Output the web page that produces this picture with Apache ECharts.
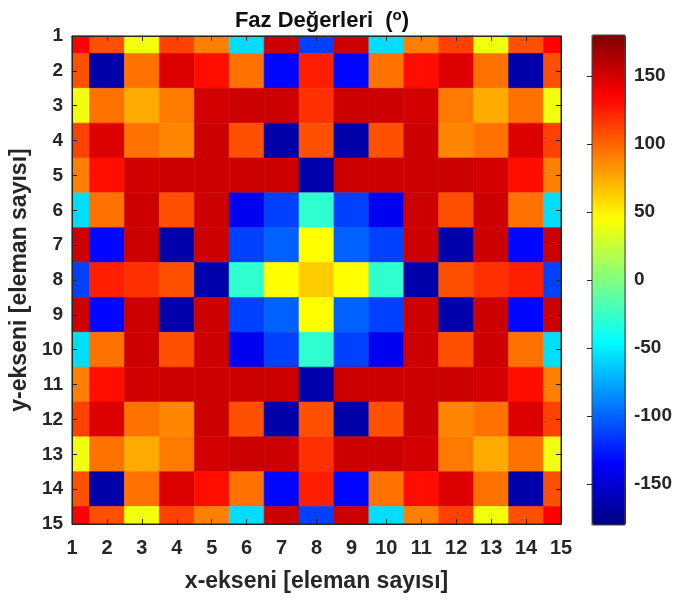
<!DOCTYPE html>
<html>
<head>
<meta charset="utf-8">
<script src="https://cdn.jsdelivr.net/npm/echarts@6/dist/echarts.min.js"></script>
<style>
  html, body { margin: 0; padding: 0; background: #fff; }
  #chart { width: 675px; height: 603px; }
</style>
</head>
<body>
<div id="chart"></div>
<script>
// Element indices along each axis
const xTicks = [1, 2, 3, 4, 5, 6, 7, 8, 9, 10, 11, 12, 13, 14, 15];
const yTicks = [1, 2, 3, 4, 5, 6, 7, 8, 9, 10, 11, 12, 13, 14, 15];
const colorbarTicks = [-150, -100, -50, 0, 50, 100, 150];

// Phase of each array element in degrees, one row per y index
const row1  = [135, 107, 40, 112, 90, -57, 153, -112, 153, -57, 90, 112, 40, 107, 135];
const row2  = [107, -165, 95, 147, 130, 95, -133, 124, -133, 95, 130, 147, 95, -165, 107];
const row3  = [40, 95, 75, 92, 151, 153, 153, 118, 153, 153, 151, 92, 75, 95, 40];
const row4  = [112, 147, 95, 88, 153, 107, -165, 107, -165, 107, 153, 88, 95, 147, 112];
const row5  = [90, 130, 151, 153, 153, 153, 153, -165, 153, 153, 153, 153, 151, 130, 90];
const row6  = [-57, 95, 153, 107, 153, -140, -112, -28, -112, -140, 153, 107, 153, 95, -57];
const row7  = [153, -133, 153, -165, 153, -112, -101, 45, -101, -112, 153, -165, 153, -133, 153];
const row8  = [-112, 124, 118, 107, -165, -28, 45, 63, 45, -28, -165, 107, 118, 124, -112];
const row9  = [153, -133, 153, -165, 153, -112, -101, 45, -101, -112, 153, -165, 153, -133, 153];
const row10 = [-57, 95, 153, 107, 153, -140, -112, -28, -112, -140, 153, 107, 153, 95, -57];
const row11 = [90, 130, 151, 153, 153, 153, 153, -165, 153, 153, 153, 153, 151, 130, 90];
const row12 = [112, 147, 95, 88, 153, 107, -165, 107, -165, 107, 153, 88, 95, 147, 112];
const row13 = [40, 95, 75, 92, 151, 153, 153, 118, 153, 153, 151, 92, 75, 95, 40];
const row14 = [107, -165, 95, 147, 130, 95, -133, 124, -133, 95, 130, 147, 95, -165, 107];
const row15 = [135, 107, 40, 112, 90, -57, 153, -112, 153, -57, 90, 112, 40, 107, 135];
const phaseRows = [row1, row2, row3, row4, row5, row6, row7, row8,
                   row9, row10, row11, row12, row13, row14, row15];

// Jet colour ramp stops (dark blue -> blue -> cyan -> yellow -> red -> dark red)
const jetStops = ['#000080', '#0000ff', '#0080ff', '#00ffff', '#80ff80',
                  '#ffff00', '#ff8000', '#ff0000', '#800000'];

const cells = [];
phaseRows.forEach((row, r) => {
  row.forEach((v, c) => cells.push([xTicks[c], yTicks[r], v]));
});

const TXT = '#262626';
const FONT = '"Liberation Sans", Arial, Helvetica, sans-serif';

const chart = echarts.init(document.getElementById('chart'), null, { renderer: 'canvas' });

const tickCommon = { show: true, inside: true, length: 5, lineStyle: { color: TXT, width: 1 } };
const lineCommon = { show: true, lineStyle: { color: TXT, width: 1 } };

chart.setOption({
  animation: false,
  backgroundColor: '#fff',
  title: {
    text: 'Faz Değerleri  ({sup|o})',
    left: 317, top: 3, textAlign: 'center',
    textStyle: {
      fontFamily: FONT, fontWeight: 'bold', fontSize: 22, color: '#111',
      rich: { sup: { fontFamily: FONT, fontWeight: 'bold', fontSize: 15, color: '#111', verticalAlign: 'top', padding: [0, 0, 10, 0] } }
    }
  },
  grid: [
    { left: 72, top: 36, width: 489, height: 488, show: true, borderColor: TXT, borderWidth: 1, backgroundColor: 'transparent', z: 10 },
    { left: 592, top: 35, width: 34, height: 490, show: true, borderColor: '#444', borderWidth: 1, backgroundColor: 'transparent', z: 10 }
  ],
  xAxis: [
    {
      gridIndex: 0, type: 'value', min: 1, max: 15, interval: 1, position: 'bottom', z: 6,
      name: 'x-ekseni [eleman sayısı]', nameLocation: 'middle', nameGap: 46,
      nameTextStyle: { fontFamily: FONT, fontWeight: 'bold', fontSize: 23, color: TXT },
      axisLine: lineCommon, axisTick: tickCommon, splitLine: { show: false },
      axisLabel: { fontFamily: FONT, fontWeight: 'bold', fontSize: 20, color: TXT, margin: 14 }
    },
    {
      gridIndex: 0, type: 'value', min: 1, max: 15, interval: 1, position: 'top', z: 6,
      axisLine: lineCommon, axisTick: tickCommon, splitLine: { show: false }, axisLabel: { show: false }
    },
    { gridIndex: 1, type: 'value', min: 0, max: 1, show: false }
  ],
  yAxis: [
    {
      gridIndex: 0, type: 'value', min: 1, max: 15, interval: 1, inverse: true, position: 'left', z: 6,
      name: 'y-ekseni [eleman sayısı]', nameLocation: 'middle', nameGap: 37, nameRotate: 90,
      nameTextStyle: { fontFamily: FONT, fontWeight: 'bold', fontSize: 23, color: TXT },
      axisLine: lineCommon, axisTick: tickCommon, splitLine: { show: false },
      axisLabel: { fontFamily: FONT, fontWeight: 'bold', fontSize: 19, color: TXT, margin: 9 }
    },
    {
      gridIndex: 0, type: 'value', min: 1, max: 15, interval: 1, inverse: true, position: 'right', z: 6,
      axisLine: lineCommon, axisTick: tickCommon, splitLine: { show: false }, axisLabel: { show: false }
    },
    {
      gridIndex: 1, type: 'value', min: -180, max: 180, position: 'right', z: 12,
      axisLine: { show: false }, splitLine: { show: false },
      axisTick: { show: true, inside: true, length: 5, lineStyle: { color: TXT }, customValues: colorbarTicks },
      axisLabel: { fontFamily: FONT, fontWeight: 'bold', fontSize: 19, color: TXT, margin: 9, customValues: colorbarTicks }
    }
  ],
  visualMap: {
    type: 'continuous', min: -180, max: 180, dimension: 2, seriesIndex: 0,
    inRange: { color: jetStops },
    left: 592, top: 35, itemWidth: 34, itemHeight: 490, padding: 0,
    calculable: false, hoverLink: false, realtime: false, text: null, showLabel: false,
    orient: 'vertical', z: 4
  },
  series: [{
    type: 'custom',
    xAxisIndex: 0, yAxisIndex: 0,
    encode: { x: 0, y: 1 },
    data: cells,
    renderItem(params, api) {
      const x = api.value(0), y = api.value(1);
      const p0 = api.coord([x - 0.5, y - 0.5]);
      const p1 = api.coord([x + 0.5, y + 0.5]);
      const cs = params.coordSys;
      const rect = echarts.graphic.clipRectByRect({
        x: Math.min(p0[0], p1[0]), y: Math.min(p0[1], p1[1]),
        width: Math.abs(p1[0] - p0[0]), height: Math.abs(p1[1] - p0[1])
      }, { x: cs.x, y: cs.y, width: cs.width, height: cs.height });
      if (!rect) return null;
      const color = api.visual('color');
      return { type: 'rect', shape: rect, style: { fill: color, stroke: color, lineWidth: 0.6 } };
    }
  }]
});
</script>
</body>
</html>
